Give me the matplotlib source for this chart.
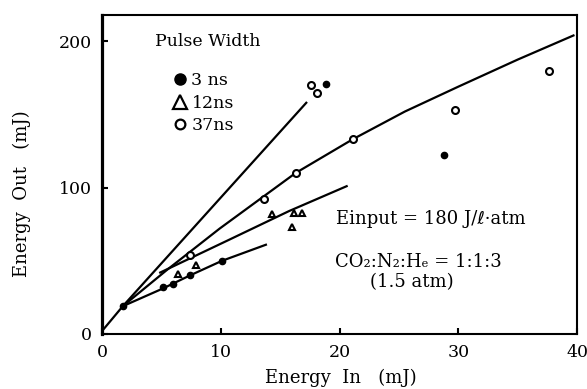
import numpy as np
import matplotlib.pyplot as plt
from matplotlib.lines import Line2D

plt.rcParams['font.family'] = ['DejaVu Serif', 'DejaVu Sans', 'Noto Sans']
plt.rcParams['mathtext.fontset'] = 'dejavuserif'

# fitted curves (Energy In, Energy Out)
line_a_x = [0, 1.75, 17.2]
line_a_y = [2, 19, 158]
line_b_x = [1.75, 5.5, 9.9, 16.3, 21.1, 25.5, 30, 35, 39.7]
line_b_y = [19, 44, 72, 110, 133, 152, 169, 187.5, 204]
line_c_x = [4.9, 10.6, 15.75, 20.6]
line_c_y = [42, 64, 84, 101]
line_d_x = [1.75, 5.1, 7.4, 10.1, 13.8]
line_d_y = [19, 31, 40, 50, 61]

# measured points
ns3_x = [1.75, 5.1, 6.0, 7.4, 10.1, 28.8, 18.9]
ns3_y = [19, 32, 34, 40, 50, 122, 171]
ns12_x = [6.4, 7.9, 14.3, 16.2, 16.8, 16.0]
ns12_y = [41, 47, 82, 83, 83, 73]
ns37_x = [7.4, 13.6, 16.3, 21.1, 29.75, 37.6, 17.6, 18.1]
ns37_y = [54, 92, 110, 133, 153, 180, 170, 165]

xticks = [0, 10, 20, 30, 40]
yticks = [0, 100, 200]

fig = plt.figure(figsize=(5.87, 3.89), dpi=100)
ax = fig.add_axes([0.1738, 0.1414, 0.8092, 0.8201])

for xs, ys in [(line_a_x, line_a_y), (line_b_x, line_b_y),
               (line_c_x, line_c_y), (line_d_x, line_d_y)]:
    ax.plot(xs, ys, color='black', lw=1.6)

ax.plot(ns3_x, ns3_y, 'o', color='black', ms=4.5, ls='none')
ax.plot(ns12_x, ns12_y, '^', mfc='white', mec='black', mew=1.5, ms=5, ls='none')
ax.plot(ns37_x, ns37_y, 'o', mfc='white', mec='black', mew=1.5, ms=5, ls='none')

handles = [
    Line2D([], [], marker='o', color='black', ls='none', ms=8),
    Line2D([], [], marker='^', mfc='white', mec='black', mew=1.6, ls='none', ms=10),
    Line2D([], [], marker='o', mfc='white', mec='black', mew=1.6, ls='none', ms=7),
]
ax.legend(handles, ['3 ns', '12ns', '37ns'], loc='upper left',
          bbox_to_anchor=(0.15, 0.82), frameon=False, fontsize=12.5,
          handlelength=0.8, handletextpad=0.25, labelspacing=0.3,
          borderpad=0, borderaxespad=0)

ax.text(4.5, 200, 'Pulse Width', fontsize=12.5, va='center', ha='left')
ax.text(19.7, 78.5, 'Einput = 180 J/ℓ·atm', fontsize=13, va='center', ha='left')
ax.text(19.6, 49, 'CO₂:N₂:Hₑ = 1:1:3', fontsize=13, va='center', ha='left')
ax.text(26.1, 35.5, '(1.5 atm)', fontsize=13, va='center', ha='center')

ax.set_xlim(0, 40)
ax.set_ylim(0, 218)
ax.set_xticks(xticks)
ax.set_yticks(yticks)
ax.tick_params(direction='in', length=4, width=1.5, labelsize=12.5,
               top=False, right=False)
ax.tick_params(axis='x', pad=7)
ax.tick_params(axis='y', pad=7)

for side in ['top', 'right', 'bottom']:
    ax.spines[side].set_linewidth(1.5)
ax.spines['left'].set_linewidth(2.3)

ax.set_xlabel('Energy  In   (mJ)', fontsize=13)
ax.set_ylabel('Energy  Out   (mJ)', fontsize=13)
ax.xaxis.set_label_coords(0.503, -0.11)
ax.yaxis.set_label_coords(-0.15, 0.44)

fig.savefig('out.png', dpi=100)
